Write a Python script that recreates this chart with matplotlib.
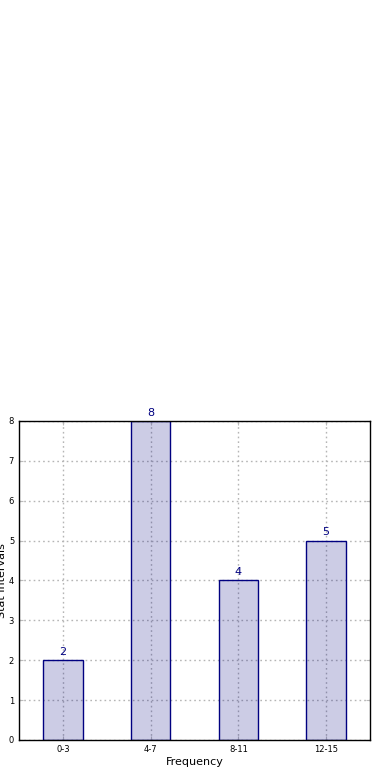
import numpy as np
import matplotlib.pyplot as plt

intervals = ['0-3', '4-7', '8-11', '12-15']
counts = [2, 8, 4, 5]

fig = plt.figure(figsize=[3.9, 7.8], dpi=100)
ax = fig.add_axes([0.0487, 0.0513, 0.9, 0.409])

x = np.arange(len(intervals))
ax.bar(x, counts, width=0.45, color='navy', alpha=0.2, edgecolor='none', zorder=2)
ax.bar(x, counts, width=0.45, color='none', edgecolor='navy', linewidth=1.0, zorder=3)

for xi, c in zip(x, counts):
    ax.text(xi, c + 0.08, str(c), ha='center', va='bottom', color='navy', fontsize=8)

ax.set_xlim(-0.5, 3.5)
ax.set_ylim(0, 8)
ax.set_xticks(x)
ax.set_xticklabels(intervals)
ax.set_yticks(range(0, 9))
ax.tick_params(labelsize=6, direction='in', length=3, color='#bbbbbb', top=True, right=True)
ax.grid(True, linestyle=(0, (1.2, 2.2)), color='#b5b5b5', linewidth=1.0, zorder=1)
ax.set_axisbelow(True)
for s in ax.spines.values():
    s.set_linewidth(1.0)
    s.set_zorder(4)

ax.set_xlabel('Frequency', fontsize=8, labelpad=2)
ax.set_ylabel('Stat Intervals', fontsize=8, labelpad=1)

plt.savefig('out.png', dpi=100)
